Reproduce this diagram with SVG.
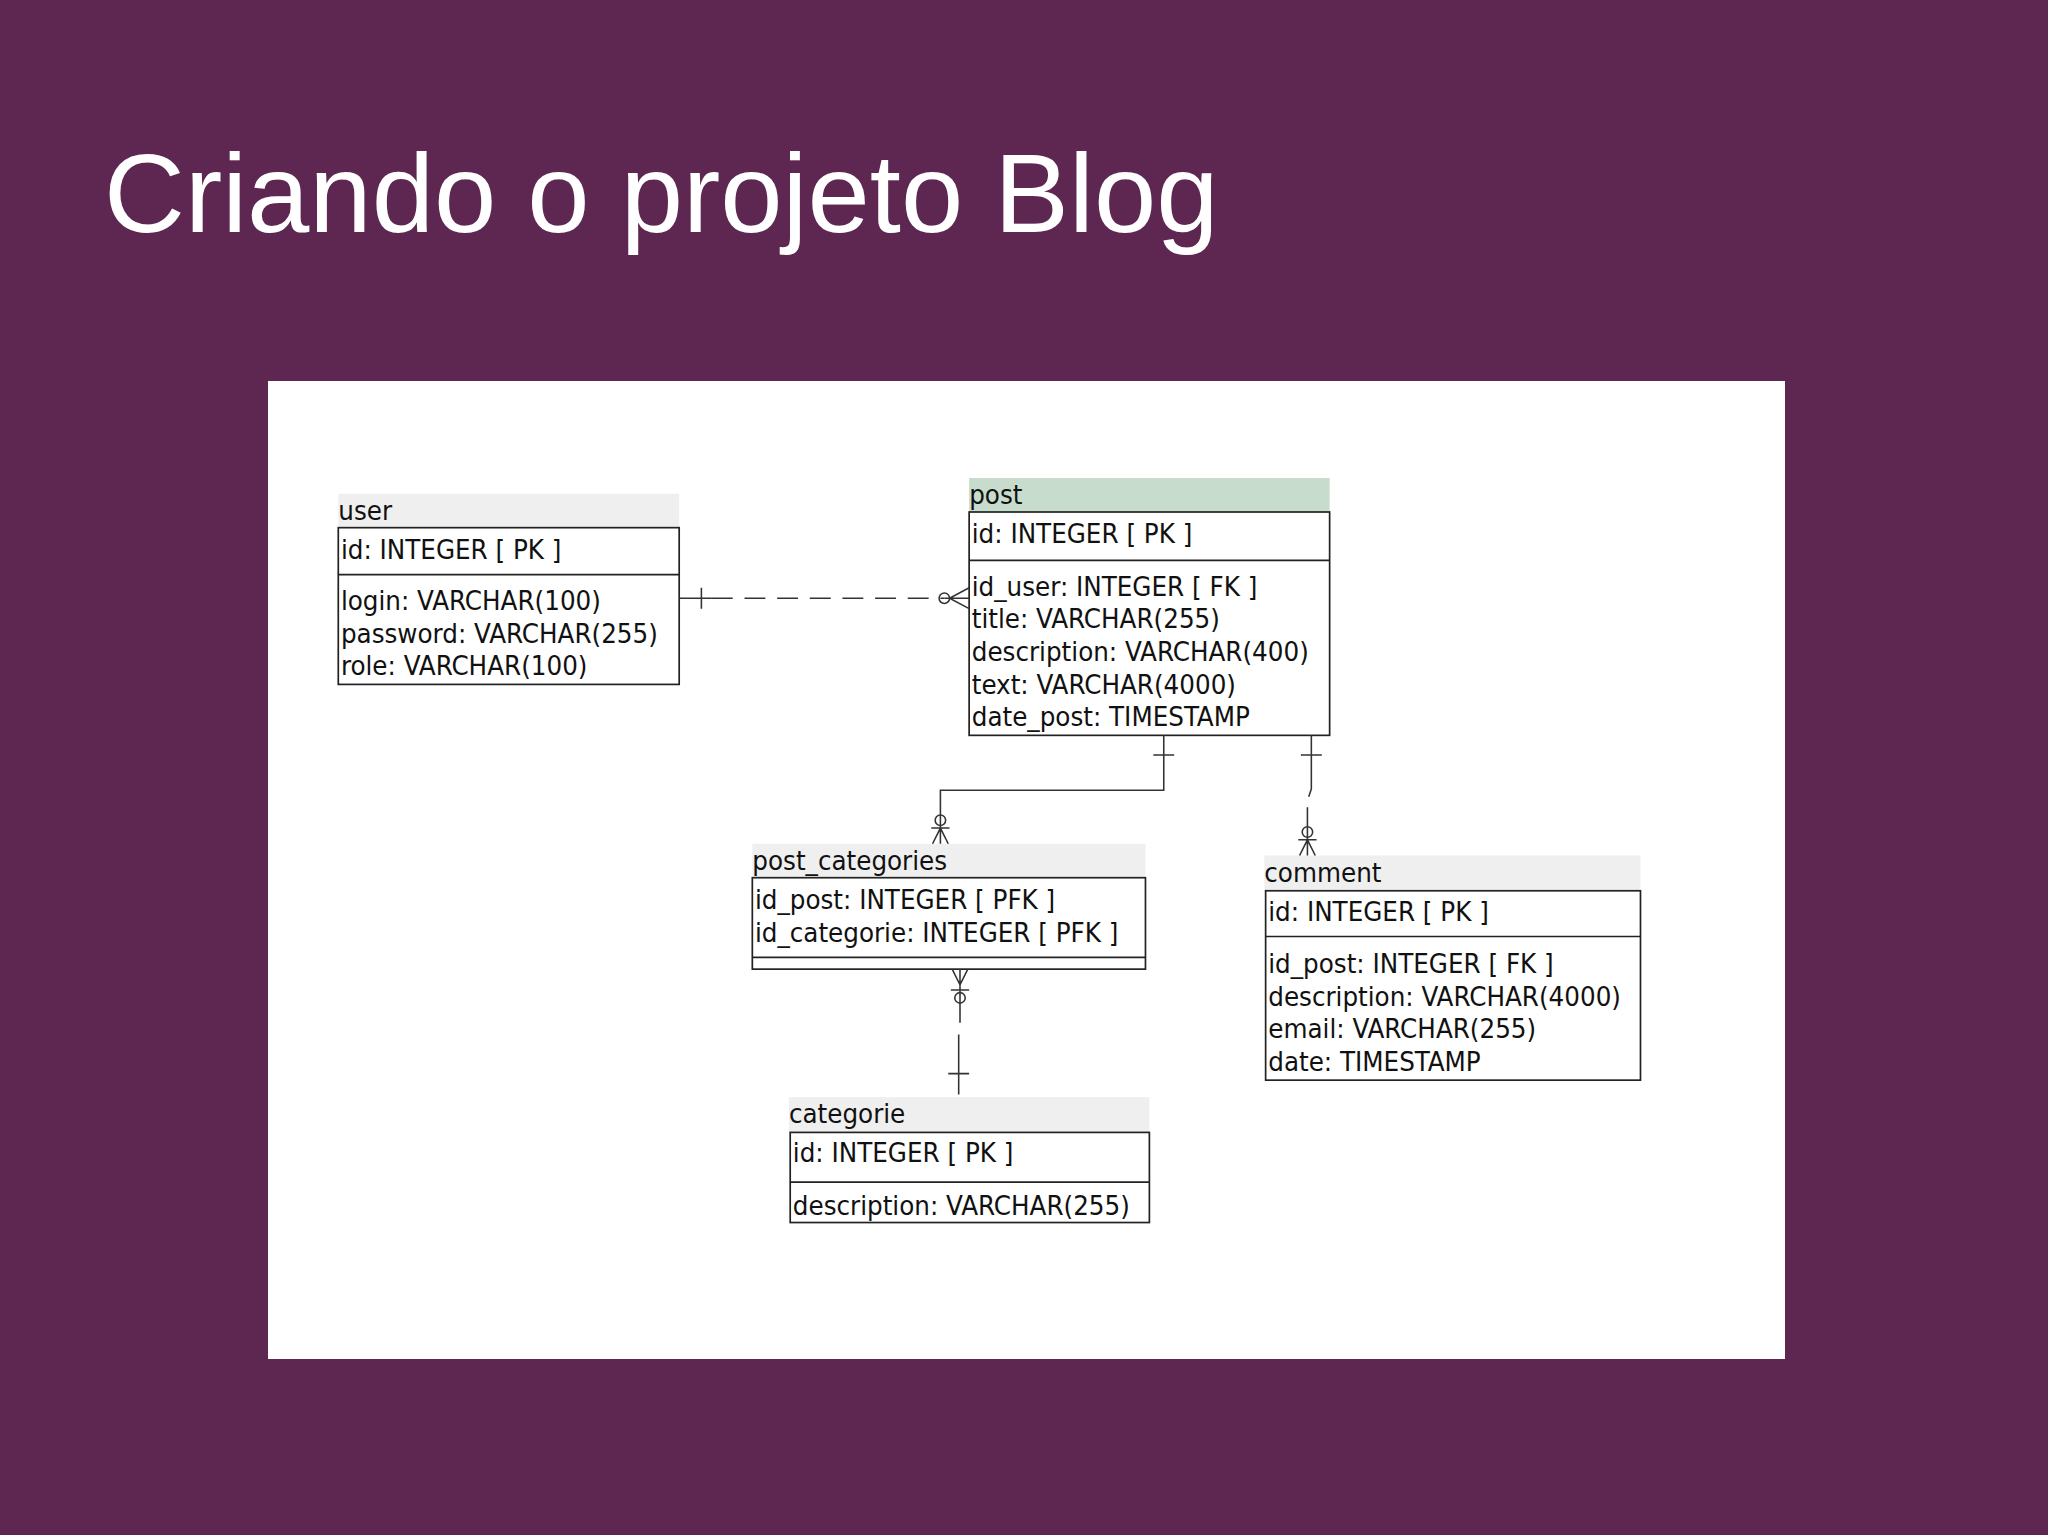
<svg xmlns="http://www.w3.org/2000/svg" width="2048" height="1535" viewBox="0 0 2048 1535">
<style>
.t{font-family:"DejaVu Sans Condensed","DejaVu Sans",sans-serif;font-size:21px;fill:#111}
.hd{fill:#efefef}
.bx{fill:#fff;stroke:#222;stroke-width:1.3}
.ln{stroke:#222;stroke-width:1.3;fill:none}
.c{stroke:#333;stroke-width:1.2;fill:none}
</style>
<rect width="2048" height="1535" fill="#5e2752"/>
<text x="104" y="232" font-family="Liberation Sans,Arial,sans-serif" font-size="112" fill="#fff">Criando o projeto Blog</text>
<rect x="268" y="381" width="1517" height="978" fill="#fff"/>
<g transform="scale(1.30612)">
<g id="user">
<rect class="hd" x="259" y="378" width="261" height="26"/>
<text class="t" x="259" y="398">user</text>
<rect class="bx" x="259" y="404" width="261" height="120"/>
<line class="ln" x1="259" y1="440" x2="520" y2="440"/>
<text class="t" x="261" y="428">id: INTEGER [ PK ]</text>
<text class="t" x="261" y="467">login: VARCHAR(100)</text>
<text class="t" x="261" y="492">password: VARCHAR(255)</text>
<text class="t" x="261" y="517">role: VARCHAR(100)</text>
</g>
<g id="post">
<rect x="742" y="366" width="276" height="26" fill="#c8dccd"/>
<text class="t" x="742" y="386">post</text>
<rect class="bx" x="742" y="392" width="276" height="171"/>
<line class="ln" x1="742" y1="429" x2="1018" y2="429"/>
<text class="t" x="744" y="416">id: INTEGER [ PK ]</text>
<text class="t" x="744" y="456">id_user: INTEGER [ FK ]</text>
<text class="t" x="744" y="481">title: VARCHAR(255)</text>
<text class="t" x="744" y="506">description: VARCHAR(400)</text>
<text class="t" x="744" y="531">text: VARCHAR(4000)</text>
<text class="t" x="744" y="556">date_post: TIMESTAMP</text>
</g>
<g id="post_categories">
<rect class="hd" x="576" y="646" width="301" height="26"/>
<text class="t" x="576" y="666">post_categories</text>
<rect class="bx" x="576" y="672" width="301" height="70"/>
<line class="ln" x1="576" y1="733" x2="877" y2="733"/>
<text class="t" x="578" y="696">id_post: INTEGER [ PFK ]</text>
<text class="t" x="578" y="721">id_categorie: INTEGER [ PFK ]</text>
</g>
<g id="comment">
<rect class="hd" x="968" y="655" width="288" height="27"/>
<text class="t" x="968" y="675">comment</text>
<rect class="bx" x="969" y="682" width="287" height="145"/>
<line class="ln" x1="969" y1="717" x2="1256" y2="717"/>
<text class="t" x="971" y="705">id: INTEGER [ PK ]</text>
<text class="t" x="971" y="745">id_post: INTEGER [ FK ]</text>
<text class="t" x="971" y="770">description: VARCHAR(4000)</text>
<text class="t" x="971" y="795">email: VARCHAR(255)</text>
<text class="t" x="971" y="820">date: TIMESTAMP</text>
</g>
<g id="categorie">
<rect class="hd" x="604" y="840" width="276" height="27"/>
<text class="t" x="604" y="860">categorie</text>
<rect class="bx" x="605" y="867" width="275" height="69"/>
<line class="ln" x1="605" y1="905" x2="880" y2="905"/>
<text class="t" x="607" y="890">id: INTEGER [ PK ]</text>
<text class="t" x="607" y="930">description: VARCHAR(255)</text>
</g>
<g id="connectors">
<path class="c" d="M520 458 H545" />
<path class="c" d="M545 458 H723" stroke-dasharray="16,9"/>
<path class="c" d="M723 458 H742 M537 450 V466 M742 450 L727 458 L742 466"/>
<circle class="c" cx="723" cy="458" r="4" fill="#fff"/>
<path class="c" d="M891 563 V605 H720 V646 M883 578 H899 M713 634 H727 M714 646 L720 634 L726 646"/>
<circle class="c" cx="720" cy="628" r="4" fill="#fff"/>
<path class="c" d="M1004 563 V604 L1002 610 M1001 618 V655 M996 578 H1012 M994 643 H1008 M995 655 L1001 643 L1007 655"/>
<circle class="c" cx="1001" cy="637" r="4" fill="#fff"/>
<path class="c" d="M735 742 V783 M734 792 V838 M726 822 H742 M728 758 H742 M729 742 L735 754 L741 742"/>
<circle class="c" cx="735" cy="764" r="4" fill="#fff"/>
</g>
</g>
</svg>
